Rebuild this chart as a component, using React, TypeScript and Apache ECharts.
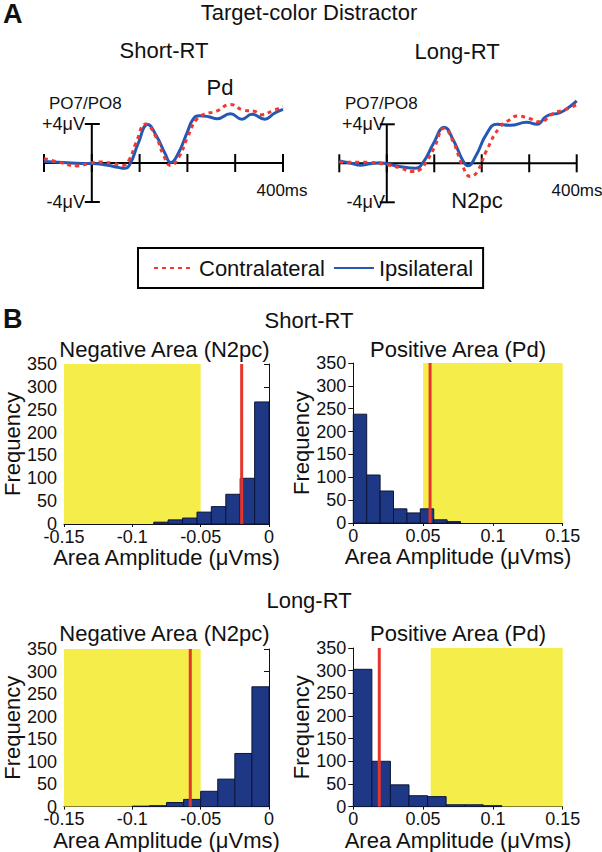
import React, { useEffect, useRef } from "react";
import * as echarts from "echarts";

const FONT = '"Liberation Sans", Arial, Helvetica, sans-serif';
const BLUE = "#2458B5";
const RED = "#EE3A2E";
const NAVY = "#1F3886";
const YELLOW = "#F5EE4A";
const OBS_RED = "#E4362B";

// ---------- Panel A: ERP waveforms (time in ms, amplitude in µV) ----------
const SHORT_IPSI_T = [-100, -60, -20, 0, 30, 55, 68, 80, 97, 117, 135, 153, 165, 180, 200, 212, 225, 245, 262, 290, 314, 335, 362, 382, 400];
const SHORT_IPSI_V = [0.15, 0.05, -0.05, -0.05, -0.2, -0.45, -0.55, -0.1, 2.0, 3.95, 2.8, 1.0, 0.05, 0.9, 3.2, 4.5, 4.85, 4.75, 4.55, 5.05, 4.5, 5.0, 4.5, 5.1, 5.5];
const SHORT_CONTRA_T = [-100, -70, -30, -10, 15, 45, 65, 78, 92, 113, 135, 150, 165, 182, 200, 218, 235, 260, 290, 318, 340, 355, 380, 400];
const SHORT_CONTRA_V = [0.45, 0.1, -0.3, -0.1, 0.1, -0.05, -0.25, 0.3, 2.0, 4.0, 2.6, 0.8, -0.25, 0.6, 2.6, 4.4, 5.0, 5.3, 6.0, 5.4, 5.3, 4.95, 5.4, 5.75];
const LONG_IPSI_T = [-100, -75, -55, -35, -15, 0, 30, 60, 78, 98, 121, 140, 160, 171, 188, 210, 232, 260, 295, 316, 337, 365, 385, 400];
const LONG_IPSI_V = [0.25, 0.0, -0.2, -0.05, 0.05, -0.05, -0.35, -0.5, 0.2, 2.0, 3.7, 2.4, 0.3, -0.25, 0.8, 3.0, 4.0, 3.9, 4.2, 4.0, 4.85, 5.2, 5.8, 6.4];
const LONG_CONTRA_T = [-100, -40, 0, 30, 55, 68, 85, 100, 121, 140, 160, 176, 190, 210, 238, 260, 275, 300, 323, 350, 375, 400];
const LONG_CONTRA_V = [0.1, 0.1, -0.15, -0.5, -0.85, -0.7, 0.3, 1.6, 3.6, 2.2, -0.3, -1.35, -0.9, 1.3, 3.7, 4.5, 4.85, 4.6, 4.25, 5.1, 5.5, 6.0];
const ERP_TICKS = [-100, 0, 100, 200, 300, 400];
const ERP_SCALE = 4; // µV scale bar

// ---------- Panel B: histograms (bin edges, counts, critical region, observed) ----------
const H1_EDGES = [-0.0843, -0.0738, -0.0633, -0.0527, -0.0422, -0.0316, -0.0211, -0.0105, 0];
const H1_COUNTS = [4, 9, 13, 26, 38, 65, 100, 267];
const H1_CRIT = [-0.15, -0.05];
const H1_OBS = -0.02;

const H2_EDGES = [0, 0.0096, 0.0192, 0.0288, 0.0384, 0.048, 0.0576, 0.0672, 0.0768];
const H2_COUNTS = [238, 105, 70, 31, 22, 31, 7, 3];
const H2_CRIT = [0.05, 0.15];
const H2_OBS = 0.055;

const H3_EDGES = [-0.1, -0.0875, -0.075, -0.0625, -0.05, -0.0375, -0.025, -0.0125, 0];
const H3_COUNTS = [1, 2, 9, 16, 34, 61, 118, 266];
const H3_CRIT = [-0.15, -0.05];
const H3_OBS = -0.0576;

const H4_EDGES = [0, 0.0133, 0.0266, 0.0399, 0.0532, 0.0665, 0.0798, 0.0931, 0.1064];
const H4_COUNTS = [303, 100, 48, 24, 22, 4, 4, 2];
const H4_CRIT = [0.0554, 0.15];
const H4_OBS = 0.0186;

const FREQ_MAX = 350;
const FREQ_STEP = 50;

const pairs = (t: number[], v: number[]) => t.map((x, i) => [x, v[i]]);

function ln(x1: number, y1: number, x2: number, y2: number) {
  return { type: "line", shape: { x1, y1, x2, y2 }, style: { stroke: "#000", lineWidth: 2 } };
}

function erpAxisItem(_p: any, api: any) {
  const children: any[] = [];
  const l = api.coord([ERP_TICKS[0], 0]);
  const r = api.coord([ERP_TICKS[ERP_TICKS.length - 1], 0]);
  children.push(ln(l[0], l[1], r[0], r[1]));
  ERP_TICKS.forEach((t) => {
    const p = api.coord([t, 0]);
    children.push(ln(p[0], p[1] - 9, p[0], p[1] + 9));
  });
  const top = api.coord([0, ERP_SCALE]);
  const bot = api.coord([0, -ERP_SCALE]);
  children.push(ln(top[0], top[1], bot[0], bot[1]));
  children.push(ln(top[0] - 7, top[1], top[0] + 8, top[1]));
  children.push(ln(bot[0] - 7, bot[1], bot[0] + 8, bot[1]));
  return { type: "group", children };
}

function barItem(_p: any, api: any) {
  const a = api.coord([api.value(0), api.value(2)]);
  const b = api.coord([api.value(1), 0]);
  return {
    type: "rect",
    shape: { x: a[0], y: a[1], width: b[0] - a[0], height: b[1] - a[1] },
    style: { fill: NAVY, stroke: "#0A1538", lineWidth: 1 },
  };
}

function bandItem(_p: any, api: any) {
  const a = api.coord([api.value(0), FREQ_MAX]);
  const b = api.coord([api.value(1), 0]);
  return {
    type: "rect",
    shape: { x: a[0], y: a[1], width: b[0] - a[0], height: b[1] - a[1] },
    style: { fill: YELLOW },
  };
}

function obsItem(_p: any, api: any) {
  const a = api.coord([api.value(0), 0]);
  const b = api.coord([api.value(0), FREQ_MAX]);
  return {
    type: "line",
    shape: { x1: a[0], y1: a[1], x2: b[0], y2: b[1] },
    style: { stroke: OBS_RED, lineWidth: 3 },
  };
}

function txt(text: string, x: number, y: number, size: number, align = "center", weight = "normal") {
  return {
    type: "text",
    x,
    y,
    style: {
      text,
      font: `${weight} ${size}px ${FONT}`,
      fill: "#111",
      align,
      textAlign: align,
      verticalAlign: "middle",
      textVerticalAlign: "middle",
    },
  };
}

export default function App() {
  const ref = useRef<HTMLDivElement>(null);

  useEffect(() => {
    if (!ref.current) return;
    const chart = echarts.init(ref.current, null, { renderer: "svg" });

    const grids = [
      { left: 44, top: 124, width: 239, height: 78 },
      { left: 339.3, top: 124.3, width: 237.4, height: 78 },
      { left: 60, top: 364, width: 209, height: 160 },
      { left: 353.3, top: 363, width: 209.4, height: 160 },
      { left: 60, top: 649, width: 209, height: 159 },
      { left: 353.3, top: 648, width: 209.4, height: 160 },
    ];

    const xAxes: any[] = [];
    const yAxes: any[] = [];
    [0, 1].forEach((g) => {
      xAxes.push({ type: "value", gridIndex: g, min: -100, max: 400, show: false });
      yAxes.push({ type: "value", gridIndex: g, min: -ERP_SCALE, max: ERP_SCALE, show: false });
    });
    const histX = [
      [-0.15, 0],
      [0, 0.15],
      [-0.15, 0],
      [0, 0.15],
    ];
    histX.forEach((ext, i) => {
      const g = i + 2;
      xAxes.push({
        type: "value",
        gridIndex: g,
        min: ext[0],
        max: ext[1],
        interval: 0.05,
        name: "Area Amplitude (μVms)",
        nameLocation: "middle",
        nameGap: i < 2 ? 15 : 14,
        nameTextStyle: { fontSize: 22, color: "#111", fontFamily: FONT },
        axisLine: { lineStyle: { color: "#111", width: 1 } },
        axisTick: { show: true, length: 3, lineStyle: { color: "#111" } },
        axisLabel: { fontSize: 18, lineHeight: 13, color: "#111", fontFamily: FONT, margin: 6 },
        splitLine: { show: false },
      });
      yAxes.push({
        type: "value",
        gridIndex: g,
        min: 0,
        max: FREQ_MAX,
        interval: FREQ_STEP,
        name: "Frequency",
        nameLocation: "middle",
        nameGap: i % 2 === 0 ? 41 : 39,
        nameTextStyle: { fontSize: 22, color: "#111", fontFamily: FONT },
        axisLine: { show: true, lineStyle: { color: "#111", width: 1 } },
        axisTick: { show: true, length: 5, lineStyle: { color: "#111" } },
        axisLabel: { fontSize: 18, lineHeight: 13, color: "#111", fontFamily: FONT, margin: 7 },
        splitLine: { show: false },
      });
    });

    const series: any[] = [];
    const erp = [
      { ipsiT: SHORT_IPSI_T, ipsiV: SHORT_IPSI_V, conT: SHORT_CONTRA_T, conV: SHORT_CONTRA_V },
      { ipsiT: LONG_IPSI_T, ipsiV: LONG_IPSI_V, conT: LONG_CONTRA_T, conV: LONG_CONTRA_V },
    ];
    erp.forEach((d, g) => {
      series.push({
        type: "custom",
        xAxisIndex: g,
        yAxisIndex: g,
        data: [[0, 0]],
        renderItem: erpAxisItem,
        clip: false,
        silent: true,
        z: 1,
      });
      series.push({
        name: "Ipsilateral",
        type: "line",
        xAxisIndex: g,
        yAxisIndex: g,
        data: pairs(d.ipsiT, d.ipsiV),
        smooth: 0.5,
        symbol: "none",
        clip: false,
        lineStyle: { color: BLUE, width: 3 },
        itemStyle: { color: BLUE },
        z: 3,
      });
      series.push({
        name: "Contralateral",
        type: "line",
        xAxisIndex: g,
        yAxisIndex: g,
        data: pairs(d.conT, d.conV),
        smooth: 0.5,
        symbol: "none",
        clip: false,
        lineStyle: { color: RED, width: 3, type: [4, 4] },
        itemStyle: { color: RED },
        z: 4,
      });
    });

    const hists = [
      { e: H1_EDGES, c: H1_COUNTS, crit: H1_CRIT, obs: H1_OBS },
      { e: H2_EDGES, c: H2_COUNTS, crit: H2_CRIT, obs: H2_OBS },
      { e: H3_EDGES, c: H3_COUNTS, crit: H3_CRIT, obs: H3_OBS },
      { e: H4_EDGES, c: H4_COUNTS, crit: H4_CRIT, obs: H4_OBS },
    ];
    hists.forEach((h, i) => {
      const ax = i + 2;
      series.push({
        type: "custom",
        xAxisIndex: ax,
        yAxisIndex: ax,
        data: [h.crit],
        renderItem: bandItem,
        silent: true,
        z: 1,
      });
      series.push({
        type: "custom",
        xAxisIndex: ax,
        yAxisIndex: ax,
        data: h.c.map((n, k) => [h.e[k], h.e[k + 1], n]),
        encode: { x: [0, 1], y: 2 },
        renderItem: barItem,
        silent: true,
        z: 2,
      });
      series.push({
        type: "custom",
        xAxisIndex: ax,
        yAxisIndex: ax,
        data: [[h.obs]],
        renderItem: obsItem,
        silent: true,
        z: 3,
      });
    });

    const graphic = [
      txt("A", 3, 14, 27, "left", "bold"),
      txt("Target-color Distractor", 309, 12, 22),
      txt("Short-RT", 164, 50, 22),
      txt("Long-RT", 457, 51, 22),
      txt("Pd", 220, 87, 22),
      txt("N2pc", 477, 200, 22),
      txt("PO7/PO8", 49, 103, 17, "left"),
      txt("PO7/PO8", 345, 103, 17, "left"),
      txt("+4μV", 85, 124, 18, "right"),
      txt("-4μV", 85, 202, 18, "right"),
      txt("+4μV", 385, 124, 18, "right"),
      txt("-4μV", 385, 202, 18, "right"),
      txt("400ms", 282, 190, 17),
      txt("400ms", 577, 190, 17),
      txt("B", 3, 319, 27, "left", "bold"),
      txt("Short-RT", 309, 320, 22),
      txt("Negative Area (N2pc)", 164.5, 349, 22),
      txt("Positive Area (Pd)", 458, 349, 22),
      txt("Long-RT", 309, 600, 22),
      txt("Negative Area (N2pc)", 164.5, 633, 22),
      txt("Positive Area (Pd)", 458, 633, 22),
    ];

    chart.setOption({
      animation: false,
      backgroundColor: "#fff",
      textStyle: { fontFamily: FONT },
      grid: grids,
      xAxis: xAxes,
      yAxis: yAxes,
      legend: {
        data: ["Contralateral", "Ipsilateral"],
        left: 138,
        top: 248,
        orient: "horizontal",
        itemWidth: 40,
        itemHeight: 14,
        itemGap: 8,
        padding: [9, 10, 9, 15],
        borderColor: "#000",
        borderWidth: 2,
        selectedMode: false,
        itemStyle: { opacity: 0 },
        textStyle: { fontSize: 22, color: "#111", fontFamily: FONT },
      },
      graphic,
      series,
    });

    return () => chart.dispose();
  }, []);

  return (
    <div
      ref={ref}
      style={{ position: "absolute", left: 0, top: 0, width: 602, height: 852, background: "#fff" }}
    />
  );
}
